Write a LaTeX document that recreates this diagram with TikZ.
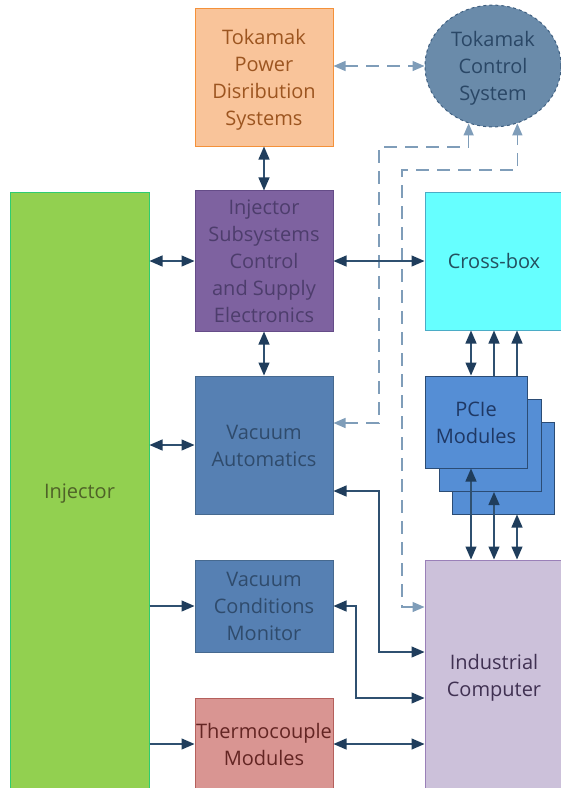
\documentclass[tikz,border=0pt]{standalone}
\usepackage{fontspec}
\setmainfont{Open Sans}
\usetikzlibrary{arrows.meta,shapes.geometric}
\definecolor{lc}{HTML}{2F5070}
\definecolor{tipc}{HTML}{1F3D5C}
\definecolor{dc}{HTML}{7F9DB9}
\definecolor{tpdF}{HTML}{F9C49A}\definecolor{tpdD}{HTML}{F4913A}\definecolor{tpdT}{HTML}{9C5520}
\definecolor{tcsF}{HTML}{6A8BAA}\definecolor{tcsD}{HTML}{3F5F80}\definecolor{tcsT}{HTML}{2A4766}
\definecolor{iscF}{HTML}{7E62A0}\definecolor{iscD}{HTML}{654C88}\definecolor{iscT}{HTML}{4D3D6C}
\definecolor{injF}{HTML}{92D050}\definecolor{injD}{HTML}{2ECC71}\definecolor{injT}{HTML}{4F6228}
\definecolor{cbF}{HTML}{66FFFF}\definecolor{cbD}{HTML}{4BACC6}\definecolor{cbT}{HTML}{235060}
\definecolor{vaF}{HTML}{5680B3}\definecolor{vaD}{HTML}{46698F}\definecolor{vaT}{HTML}{2F4B6C}
\definecolor{pcF}{HTML}{558ED5}\definecolor{pcD}{HTML}{2B4C75}\definecolor{pcT}{HTML}{1F3864}
\definecolor{icF}{HTML}{CCC1DA}\definecolor{icD}{HTML}{9A80B8}\definecolor{icT}{HTML}{403152}
\definecolor{tcF}{HTML}{D99592}\definecolor{tcD}{HTML}{B5605C}\definecolor{tcT}{HTML}{632523}
\newcommand{\txtlines}[1]{\begin{tabular}{@{}c@{}}\rule{0pt}{24pt}#1\end{tabular}}
\tikzset{
  darrow/.tip={Triangle[length=13pt,width=11pt,color=tipc]},
  larrow/.tip={Triangle[length=12pt,width=10pt,color=dc]}}
\begin{document}
\begin{tikzpicture}[x=1pt,y=-1pt,
  box/.style={draw, line width=1pt, minimum width=138pt, minimum height=138pt,
    font=\fontsize{20}{27}\selectfont, inner sep=0pt},
  con/.style={draw=lc, line width=1.3pt, {darrow}-{darrow}},
  con1/.style={draw=lc, line width=1.3pt, -{darrow}},
  dcon/.style={draw=dc, line width=1.3pt, dash pattern=on 13pt off 8pt, {larrow}-{larrow}},
  pcbox/.style={draw=pcD, fill=pcF, line width=1pt, minimum width=102pt, minimum height=92pt, inner sep=0pt,
    font=\fontsize{20}{27}\selectfont, text=pcT}]
\useasboundingbox (0,0) rectangle (561,788);
\clip (0,0) rectangle (561,788);
% nodes
\node[box, fill=tpdF, draw=tpdD, text=tpdT] (tpd) at (264,77) {\txtlines{Tokamak\\Power\\Disribution\\Systems}};
\node[ellipse, draw=tcsD, fill=tcsF, dashed, line width=1pt, minimum width=136pt, minimum height=116pt, inner sep=0pt,
  font=\fontsize{20}{27}\selectfont, text=tcsT] (tcs) at (493,66) {\txtlines{Tokamak\\Control\\System}};
\node[box, fill=injF, draw=injD, text=injT, minimum width=139pt, minimum height=598pt] (inj) at (79.5,491) {\txtlines{Injector}};
\node[box, fill=iscF, draw=iscD, text=iscT] (isc) at (264,261) {\txtlines{Injector\\Subsystems\\Control\\and Supply\\Electronics}};
\node[box, fill=cbF, draw=cbD, text=cbT] (cb) at (494,261) {\txtlines{Cross-box}};
\node[box, fill=vaF, draw=vaD, text=vaT] (va) at (264,445) {\txtlines{Vacuum\\Automatics}};
\node[box, fill=vaF, draw=vaD, text=vaT, minimum height=92pt] (vcm) at (264,606) {\txtlines{Vacuum\\Conditions\\Monitor}};
\node[box, fill=tcF, draw=tcD, text=tcT, minimum height=92pt] (tc) at (264,744) {\txtlines{Thermocouple\\Modules}};
\node[pcbox] (p3) at (503.5,468) {};
\node[pcbox] (p2) at (490,445.5) {};
\node[pcbox] (p1) at (476,422) {\txtlines{PCIe\\Modules}};
\node[box, fill=icF, draw=icD, text=icT, minimum height=230pt] (ic) at (494,675) {\txtlines{Industrial\\Computer}};
% dashed connectors
\draw[dcon] (tpd.east |- tcs.west) -- (tcs.west);
\draw[dcon] (va.east |- 0,423) -| (379,147) -| (tcs.247);
\draw[dcon] (ic.west |- 0,607) -| (402,170) -| (tcs.293);
% solid connectors
\draw[con] (tpd.south) -- (isc.north);
\draw[con] (isc.south) -- (va.north);
\draw[con] (isc.east) -- (cb.west);
\draw[con] (inj.east |- isc.west) -- (isc.west);
\draw[con] (inj.east |- va.west) -- (va.west);
\draw[con1] (inj.east |- vcm.west) -- (vcm.west);
\draw[con1] (inj.east |- tc.west) -- (tc.west);
\draw[con] (va.east |- 0,491) -| (379,652) -- (ic.west |- 0,652);
\draw[con] (vcm.east) -| (356,698) -- (ic.west |- 0,698);
\draw[con] (tc.east) -- (tc.east -| ic.west);
\draw[con] (cb.south -| 471,0) -- (p1.north -| 471,0);
\draw[con1] (p1.north -| 494,0) -- (cb.south -| 494,0);
\draw[con1] (p1.north -| 517,0) -- (cb.south -| 517,0);
\draw[con] (p1.south -| 471,0) -- (ic.north -| 471,0);
\draw[con] (p2.south -| 494,0) -- (ic.north -| 494,0);
\draw[con] (p3.south -| 517,0) -- (ic.north -| 517,0);
\end{tikzpicture}
\end{document}
